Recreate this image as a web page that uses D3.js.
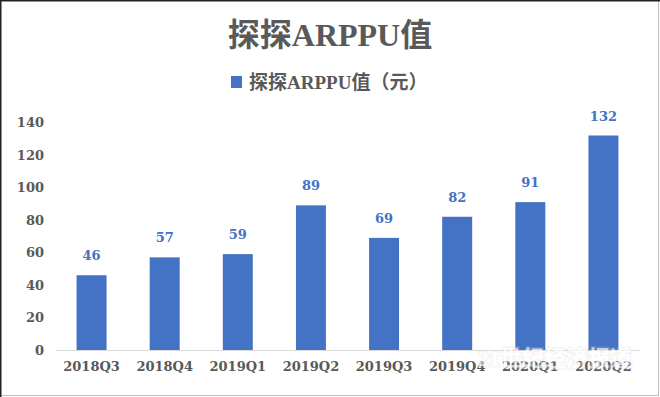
<!DOCTYPE html>
<html>
<head>
<meta charset="utf-8">
<script src="https://cdn.jsdelivr.net/npm/d3@7"></script>
<style>
  body { margin: 0; background: #fff; }
  text { font-family: "Liberation Serif", "Noto Sans CJK SC", serif; font-weight: bold; }
</style>
</head>
<body>
<div id="chart"></div>
<script>
// Data
const quarters = ["2018Q3", "2018Q4", "2019Q1", "2019Q2", "2019Q3", "2019Q4", "2020Q1", "2020Q2"];
const arppu = [46, 57, 59, 89, 69, 82, 91, 132];
const yTicks = [0, 20, 40, 60, 80, 100, 120, 140];
const chartTitle = "探探ARPPU值";
const seriesName = "探探ARPPU值（元）";

const W = 660, H = 397;
const margin = { top: 122, right: 20, bottom: 47, left: 55 };
const width = W - margin.left - margin.right;
const height = H - margin.top - margin.bottom;
const numFont = "DejaVu Serif, serif";

const root = d3.select("#chart")
    .append("svg")
    .attr("width", W)
    .attr("height", H);

// Frame around the picture
root.append("rect")
    .attr("x", 0.5).attr("y", 0.5)
    .attr("width", W - 2).attr("height", H - 2)
    .attr("fill", "#fff")
    .attr("stroke", "#bfbfbf");
root.append("line").attr("x1", 0).attr("x2", W).attr("y1", 0.5).attr("y2", 0.5)
    .attr("stroke", "#222").attr("stroke-width", 2);
root.append("line").attr("x1", 0.5).attr("x2", 0.5).attr("y1", 0).attr("y2", H)
    .attr("stroke", "#222").attr("stroke-width", 2);

// Title
root.append("text")
    .attr("x", W / 2)
    .attr("y", 46)
    .attr("text-anchor", "middle")
    .attr("fill", "#595959")
    .style("font-size", "32px")
    .text(chartTitle);

// Legend
root.append("rect")
    .attr("x", 231).attr("y", 76)
    .attr("width", 11).attr("height", 12)
    .attr("fill", "#4472c4");
root.append("text")
    .attr("x", 249)
    .attr("y", 89)
    .attr("fill", "#595959")
    .style("font-size", "19px")
    .text(seriesName);

const svg = root.append("g")
    .attr("transform", `translate(${margin.left},${margin.top})`);

// Scales
const xScale = d3.scaleBand()
    .domain(quarters)
    .range([0, width])
    .paddingInner(0.59)
    .paddingOuter(0.295);

const yScale = d3.scaleLinear()
    .domain([0, 140])
    .range([height, height - 140 * 1.625]);

// Y axis (labels only)
const yAxis = svg.append("g")
    .call(d3.axisLeft(yScale).tickValues(yTicks).tickSize(0).tickPadding(11));
yAxis.select(".domain").remove();
yAxis.selectAll("text")
    .attr("fill", "#595959")
    .style("font-size", "13px")
    .style("font-family", numFont)
    .style("font-weight", "bold");

// Bars
svg.selectAll("rect.bar")
    .data(quarters)
    .join("rect")
    .attr("class", "bar")
    .attr("x", d => xScale(d))
    .attr("y", (d, i) => yScale(arppu[i]))
    .attr("width", xScale.bandwidth())
    .attr("height", (d, i) => yScale(0) - yScale(arppu[i]))
    .attr("fill", "#4472c4");

// Value labels
svg.selectAll("text.value")
    .data(quarters)
    .join("text")
    .attr("class", "value")
    .attr("x", d => xScale(d) + xScale.bandwidth() / 2)
    .attr("y", (d, i) => yScale(arppu[i]) - 15)
    .attr("text-anchor", "middle")
    .attr("fill", "#4472c4")
    .style("font-size", "13px")
    .style("font-family", numFont)
    .text((d, i) => arppu[i]);

// X axis
const xAxis = svg.append("g")
    .attr("transform", `translate(0,${height})`)
    .call(d3.axisBottom(xScale).tickSize(0).tickPadding(12));
xAxis.select(".domain").attr("stroke", "#d9d9d9");
xAxis.selectAll("text")
    .attr("fill", "#595959")
    .style("font-size", "13px")
    .style("font-family", numFont)
    .style("font-weight", "bold");

// Watermark
const wm = root.append("g").attr("opacity", 0.7);
wm.append("text")
    .attr("x", 555).attr("y", 366)
    .attr("text-anchor", "middle")
    .attr("fill", "#fff")
    .style("font-size", "22px")
    .style("paint-order", "stroke")
    .attr("stroke", "rgba(210,210,210,0.3)")
    .attr("stroke-width", 3)
    .text("21世纪经济报道");
wm.append("text")
    .attr("x", 555).attr("y", 381)
    .attr("text-anchor", "middle")
    .attr("fill", "#fff")
    .style("font-size", "8px")
    .style("letter-spacing", "0.5px")
    .text("21ST CENTURY BUSINESS HERALD");
</script>
</body>
</html>
